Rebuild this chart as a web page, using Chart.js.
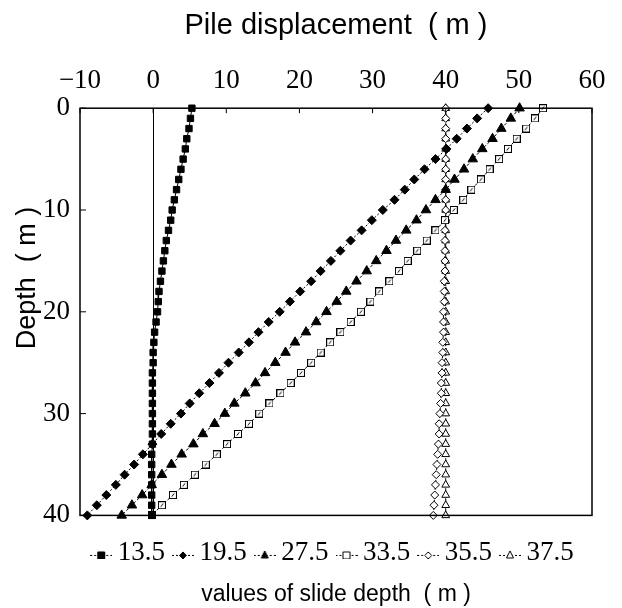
<!DOCTYPE html>
<html>
<head>
<meta charset="utf-8">
<title>Pile displacement vs depth</title>
<script src="https://cdn.jsdelivr.net/npm/chart.js@4.4.1/dist/chart.umd.min.js"></script>
<style>
    html, body { margin: 0; padding: 0; background: #fff; }
    #wrap { width: 622px; height: 608px; }
</style>
</head>
<body>
<div id="wrap"><canvas id="pileChart"></canvas></div>
<script>
// Depth along the pile (m)
const depths = [0, 1, 2, 3, 4, 5, 6, 7, 8, 9, 10, 11, 12, 13, 14, 15, 16, 17, 18, 19,
    20, 21, 22, 23, 24, 25, 26, 27, 28, 29, 30, 31, 32, 33, 34, 35, 36, 37, 38, 39, 40];

// Pile displacement (m) for each slide depth
const disp135 = [5.3, 5.1, 4.9, 4.6, 4.4, 4.1, 3.8, 3.5, 3.2, 2.9,
    2.6, 2.4, 2.1, 1.8, 1.6, 1.4, 1.2, 1.0, 0.8, 0.7,
    0.6, 0.4, 0.2, 0.1, 0.0, 0.0, -0.1, -0.1, -0.1, -0.1,
    -0.1, -0.1, -0.1, -0.1, -0.2, -0.2, -0.2, -0.2, -0.2, -0.2, -0.2];
const disp195 = [45.8, 44.3, 42.9, 41.5, 40.1, 38.6, 37.1, 35.7, 34.4, 33.0,
    31.4, 29.9, 28.5, 27.0, 25.6, 24.3, 22.9, 21.6, 20.1, 18.7,
    17.3, 15.8, 14.4, 13.1, 11.7, 10.3, 9.0, 7.7, 6.3, 5.0,
    3.8, 2.4, 1.1, -0.1, -1.4, -2.6, -3.9, -5.1, -6.4, -7.7, -9.0];
const disp275 = [50.1, 48.9, 47.6, 46.4, 45.0, 43.7, 42.5, 41.2, 40.0, 38.6,
    37.3, 36.0, 34.6, 33.2, 31.9, 30.5, 29.2, 27.8, 26.4, 25.1,
    23.7, 22.3, 20.9, 19.4, 18.1, 16.7, 15.3, 14.0, 12.6, 11.1,
    9.8, 8.4, 6.8, 5.5, 3.9, 2.5, 1.2, -0.2, -1.5, -2.9, -4.3];
const disp335 = [53.3, 52.2, 51.0, 49.7, 48.5, 47.3, 46.0, 44.8, 43.5, 42.4,
    41.1, 39.9, 38.6, 37.4, 36.1, 34.8, 33.6, 32.3, 30.9, 29.7,
    28.4, 27.0, 25.6, 24.2, 22.9, 21.6, 20.2, 18.8, 17.4, 15.9,
    14.5, 13.1, 11.6, 10.1, 8.7, 7.2, 5.7, 4.2, 2.7, 1.2, -0.2];
const disp355 = [40.0, 40.0, 40.0, 40.0, 40.0, 40.0, 40.0, 40.0, 40.0, 40.0,
    40.0, 40.0, 39.9, 39.9, 39.9, 39.9, 39.9, 39.8, 39.8, 39.8,
    39.7, 39.7, 39.7, 39.6, 39.6, 39.5, 39.5, 39.4, 39.4, 39.3,
    39.2, 39.1, 39.1, 39.0, 38.9, 38.8, 38.7, 38.6, 38.5, 38.4, 38.3];
const disp375 = [40.0, 40.0, 40.0, 40.0, 40.0, 40.0, 40.0, 40.0, 40.0, 40.0,
    40.0, 40.0, 40.0, 40.0, 40.0, 40.0, 40.0, 40.0, 40.0, 40.0,
    40.0, 40.0, 40.0, 40.0, 40.0, 40.0, 40.0, 40.0, 40.0, 40.0,
    40.0, 40.0, 40.0, 40.0, 40.0, 40.0, 40.0, 40.0, 40.0, 40.0, 40.0];

const slideDepths = ['13.5', '19.5', '27.5', '33.5', '35.5', '37.5'];
const xTicks = [-10, 0, 10, 20, 30, 40, 50, 60];
const yTicks = [0, 10, 20, 30, 40];

const SANS = '"Liberation Sans", Arial, sans-serif';
const SERIF = '"Liberation Serif", "Times New Roman", serif';

// open square with a slash, used for the 33.5 m series
function slashSquare(size) {
    const c = document.createElement('canvas');
    c.width = size;
    c.height = size;
    const g = c.getContext('2d');
    g.fillStyle = '#fff';
    g.fillRect(0.5, 0.5, size - 1, size - 1);
    g.strokeStyle = '#000';
    g.lineWidth = 1;
    g.strokeRect(0.5, 0.5, size - 1, size - 1);
    g.beginPath();
    g.moveTo(size * 0.35, size * 0.7);
    g.lineTo(size * 0.65, size * 0.3);
    g.stroke();
    return c;
}

// marker look per series
const markers = [
    { style: 'rect', radius: 4.5, fill: '#000' },
    { style: 'rectRot', radius: 4.5, fill: '#000' },
    { style: 'triangle', radius: 5.5, fill: '#000' },
    { style: slashSquare(8), radius: 4.5, fill: '#fff', icon: 'rect' },
    { style: 'rectRot', radius: 4, fill: '#fff' },
    { style: 'triangle', radius: 4.5, fill: '#fff' }
];

function toPoints(values) {
    return values.map((v, i) => ({ x: v, y: depths[i] }));
}

// small line+marker icon for the legend
function legendIcon(m) {
    const shape = m.icon || m.style;
    const c = document.createElement('canvas');
    c.width = 22;
    c.height = 12;
    const g = c.getContext('2d');
    g.strokeStyle = '#000';
    g.lineWidth = 1;
    g.setLineDash([2, 2]);
    g.beginPath();
    g.moveTo(0, 8.5);
    g.lineTo(22, 8.5);
    g.stroke();
    g.setLineDash([]);
    g.fillStyle = m.fill;
    g.beginPath();
    const cx = 11, cy = 8.5, r = 3.5;
    if (shape === 'rect') {
        g.rect(cx - r, cy - r, r * 2, r * 2);
    } else if (shape === 'rectRot') {
        g.moveTo(cx, cy - r); g.lineTo(cx + r, cy); g.lineTo(cx, cy + r); g.lineTo(cx - r, cy); g.closePath();
    } else {
        g.moveTo(cx, cy - r - 1); g.lineTo(cx + r, cy + r - 1); g.lineTo(cx - r, cy + r - 1); g.closePath();
    }
    g.fill();
    g.stroke();
    return c;
}

const seriesValues = [disp135, disp195, disp275, disp335, disp355, disp375];
const dashes = [[], [2, 2], [3, 2], [3, 2], [2, 2], [3, 2]];

const datasets = seriesValues.map((vals, i) => ({
    label: slideDepths[i],
    data: toPoints(vals),
    showLine: true,
    borderColor: '#000',
    borderWidth: 1,
    borderDash: dashes[i],
    pointStyle: markers[i].style,
    pointRadius: markers[i].radius,
    pointBackgroundColor: markers[i].fill,
    pointBorderColor: '#000',
    pointBorderWidth: 1,
    clip: false
}));

// Frame around plot + inward tick marks
const frameAndTicks = {
    id: 'frameAndTicks',
    afterDatasetsDraw(chart) {
        const { ctx, chartArea: a, scales: { x, y } } = chart;
        ctx.save();
        ctx.strokeStyle = '#000';
        ctx.lineWidth = 1.5;
        ctx.strokeRect(a.left, a.top, a.right - a.left, a.bottom - a.top);
        ctx.lineWidth = 1;
        ctx.beginPath();
        x.ticks.forEach(t => {
            const px = x.getPixelForValue(t.value);
            ctx.moveTo(px, a.top);
            ctx.lineTo(px, a.top + 5);
        });
        y.ticks.forEach(t => {
            const py = y.getPixelForValue(t.value);
            ctx.moveTo(a.left, py);
            ctx.lineTo(a.left + 6, py);
        });
        ctx.stroke();
        ctx.restore();
    }
};

Chart.defaults.color = '#000';

new Chart(document.getElementById('pileChart'), {
    type: 'scatter',
    data: { datasets },
    options: {
        responsive: true,
        maintainAspectRatio: false,
        animation: false,
        layout: { padding: { left: 3, right: 30, top: 9, bottom: 0 } },
        plugins: {
            legend: {
                position: 'bottom',
                fullSize: false,
                labels: {
                    usePointStyle: true,
                    pointStyleWidth: 6,
                    padding: 15,
                    font: { family: SERIF, size: 27 },
                    color: '#000',
                    generateLabels: (chart) => chart.data.datasets.map((ds, i) => ({
                        text: ds.label,
                        pointStyle: legendIcon(markers[i]),
                        fillStyle: '#000',
                        strokeStyle: '#000',
                        lineWidth: 0,
                        hidden: false,
                        datasetIndex: i
                    }))
                }
            },
            subtitle: {
                display: true,
                position: 'bottom',
                fullSize: false,
                text: 'values of slide depth  ( m )',
                font: { family: SANS, size: 23, weight: 'normal' },
                color: '#000',
                padding: { top: 4, bottom: 0 }
            },
            tooltip: { enabled: false }
        },
        scales: {
            x: {
                type: 'linear',
                position: 'top',
                min: xTicks[0],
                max: xTicks[xTicks.length - 1],
                ticks: {
                    stepSize: xTicks[1] - xTicks[0],
                    font: { family: SERIF, size: 27 },
                    padding: 11,
                    callback: v => v < 0 ? '\u2212' + Math.abs(v) : String(v)
                },
                grid: {
                    drawTicks: false,
                    color: c => c.tick && c.tick.value === 0 ? '#000' : 'rgba(0,0,0,0)',
                    lineWidth: 1
                },
                border: { display: false },
                title: {
                    display: true,
                    text: 'Pile displacement  ( m )',
                    font: { family: SANS, size: 29 },
                    padding: { top: 0, bottom: 10 }
                }
            },
            // empty bottom axis, only keeps a gap above the legend
            xGap: {
                type: 'linear',
                position: 'bottom',
                min: xTicks[0],
                max: xTicks[xTicks.length - 1],
                ticks: { display: false },
                grid: { display: false, drawTicks: false },
                border: { display: false },
                afterFit: s => { s.height = 9; }
            },
            y: {
                type: 'linear',
                reverse: true,
                min: yTicks[0],
                max: yTicks[yTicks.length - 1],
                afterFit: s => { s.width = 77; },
                ticks: {
                    stepSize: yTicks[1] - yTicks[0],
                    font: { family: SERIF, size: 27 },
                    padding: 10
                },
                grid: { display: false, drawTicks: false },
                border: { display: false },
                title: {
                    display: true,
                    text: '         Depth  ( m )',
                    font: { family: SANS, size: 27 },
                    padding: { top: 8, bottom: 0 }
                }
            }
        }
    },
    plugins: [frameAndTicks]
});
</script>
</body>
</html>
